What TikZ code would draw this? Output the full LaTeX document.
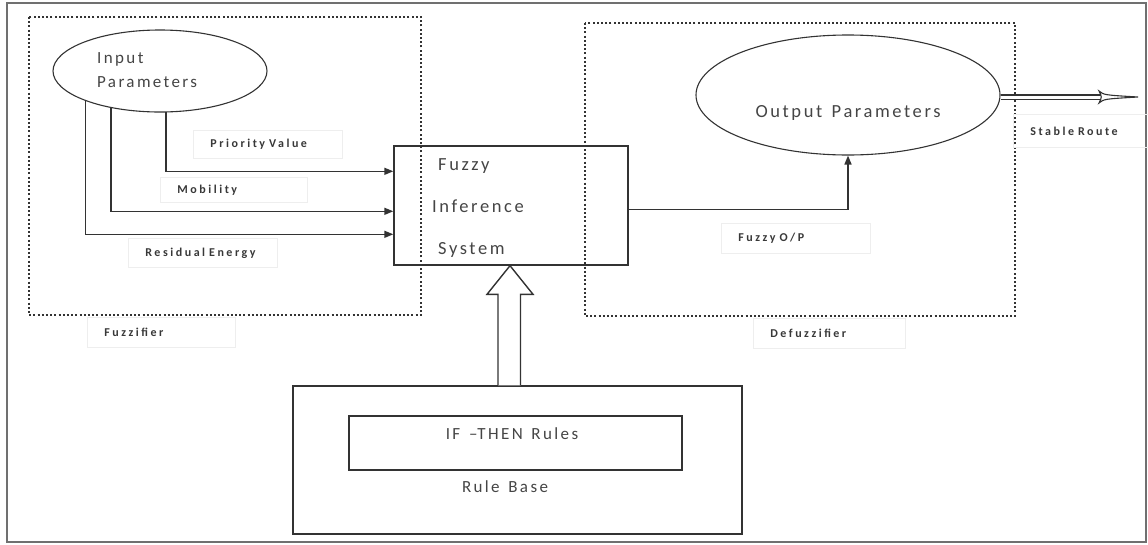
\documentclass[tikz,border=0pt]{standalone}
\usepackage{fontspec}
\setmainfont{Carlito}
\newfontfamily\lblfont[LetterSpace=21,WordSpace=2]{Carlito}
\newfontfamily\bigfont[LetterSpace=14,WordSpace=1.4]{Carlito}
\usetikzlibrary{arrows.meta,calc,shapes.geometric}
\definecolor{ln}{HTML}{333333}
\definecolor{tx}{HTML}{454545}
\definecolor{frm}{HTML}{707070}
\definecolor{faint}{HTML}{EEEEEE}
\tikzset{
  ell/.style={draw=ln, line width=1.1pt, ellipse, inner sep=0pt},
  blk/.style={draw=ln, line width=1.4pt, rectangle, inner sep=0pt},
  dotbox/.style={draw=ln, line width=1.4pt, dash pattern=on 2pt off 2.2pt},
  lbl/.style 2 args={draw=faint, line width=0.8pt, rectangle, anchor=north west,
    align=left, inner xsep=17pt, inner ysep=0pt, text width=#1, minimum height=#2,
    font=\lblfont\bfseries\fontsize{12}{14}\selectfont, text=black!78},
  bigtxt/.style={font=\bigfont\fontsize{17}{20}\selectfont, text=tx, inner sep=0pt},
  midtxt/.style={font=\bigfont\fontsize{18.5}{22}\selectfont, text=tx, inner sep=0pt},
  conn/.style={draw=ln, line width=1.5pt, -{Triangle[length=9pt,width=7pt]}}
}
\begin{document}
\begin{tikzpicture}[x=1pt,y=-1pt]
\useasboundingbox (0,0) rectangle (1148,544);
\fill[white] (0,0) rectangle (1148,544);
\draw[frm, line width=2pt] (7,3) rectangle (1146,542);

% dotted regions
\draw[dotbox] (29,17) rectangle (421,315);
\draw[dotbox] (585,23) rectangle (1015,316);

% input ellipse
\node[ell, minimum width=214pt, minimum height=82pt] (inp) at (160,71) {};
\node[bigtxt, anchor=base west] (inp1) at (97,63) {Input};
\node[bigtxt, anchor=base west] (inp2) at (97,87) {Parameters};

% fuzzy inference system
\node[blk, minimum width=234pt, minimum height=119pt] (fis) at (511,205.5) {};
\node[midtxt, anchor=base west] (fis1) at (438,170) {Fuzzy};
\node[midtxt, anchor=base west] (fis2) at (432,212) {Inference};
\node[midtxt, anchor=base west] (fis3) at (438,254) {System};

% output ellipse
\node[ell, minimum width=304pt, minimum height=120pt] (out) at (848,95) {};
\node[midtxt, anchor=base] (outt) at (848,117) {Output Parameters};

% rule base
\node[blk, minimum width=449pt, minimum height=148pt] (rb) at (517.5,460) {};
\node[blk, minimum width=333pt, minimum height=54pt] (ifr) at (515.5,443) {};
\node[bigtxt, anchor=base] (ifrt) at (512,439) {IF {\fontspec{Carlito}–}THEN Rules};
\node[bigtxt, anchor=base] (rbt) at (505,492) {Rule Base};

% labels
\node[lbl={115pt}{28pt}] (pv) at (193,130) {Priority Value};
\node[lbl={113pt}{25pt}] (mob) at (160,177) {Mobility};
\node[lbl={115pt}{29pt}] (re) at (128,238) {Residual Energy};
\node[lbl={114pt}{30pt}] (fz) at (87,317) {Fuzzifier};
\node[lbl={115pt}{30pt}] (fop) at (721,223) {Fuzzy O/P};
\node[lbl={118pt}{30pt}] (dfz) at (753,318) {Defuzzifier};
\node[lbl={101pt}{33pt}] (sr) at (1013,114) {Stable Route};

% connectors from input parameters
\draw[conn] (inp.278.3) |- ($(fis.north west)+(0,26)$);
\draw[conn] (inp.217.3) |- ($(fis.north west)+(0,66)$);
\draw[conn] (inp.202.8) |- ($(fis.north west)+(0,89)$);

% fuzzy O/P
\draw[conn] ($(fis.north east)+(0,64)$) -| (out.south);

% stable route double arrow
\coordinate (srend) at (1102,97);
\draw[draw=ln, line width=1.1pt, double=white, double distance=3pt] (out.east |- srend) -- (srend);
\draw[draw=ln, line width=1.1pt, fill=white] (1099,91) .. controls (1104,95) .. (1138,97)
   .. controls (1104,99) .. (1099,103) .. controls (1102,97) .. (1099,91) -- cycle;

% hollow rule-base arrow
\draw[draw=ln, line width=1.4pt, fill=white, line join=miter]
  ($(rb.north)+(-19.5,0)$) -- ++(0,-91) -- ++(-11,0) -- ($(fis.south)+(-1,0)$)
  -- ($(rb.north)+(15.5,-91)$) -- ++(-12.5,0) -- ($(rb.north)+(3,0)$);
\end{tikzpicture}
\end{document}
